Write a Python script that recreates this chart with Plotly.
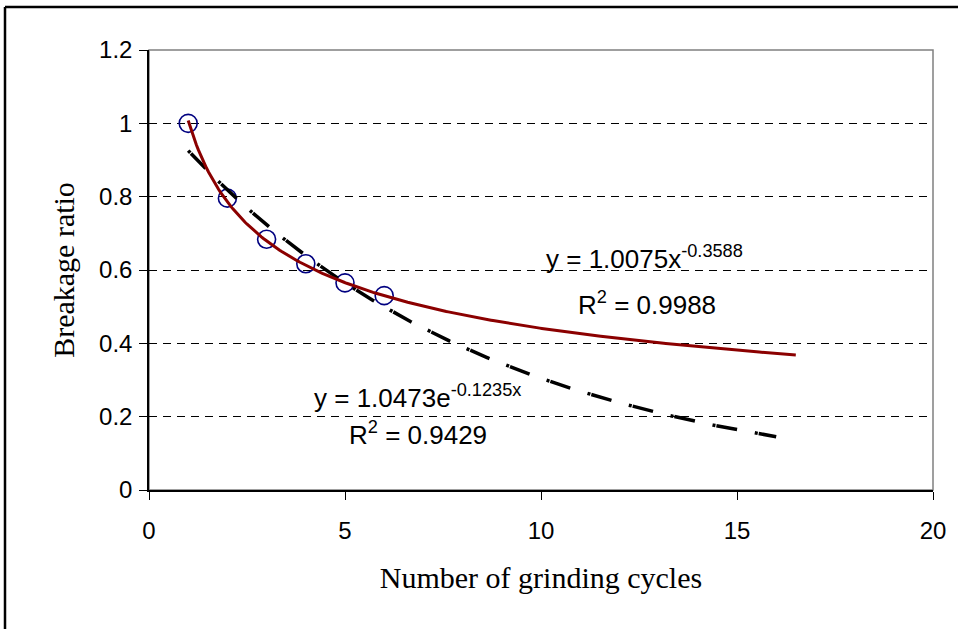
import numpy as np
import plotly.graph_objects as go

# Measured breakage ratio after each grinding cycle
cycles = [1, 2, 3, 4, 5, 6]
breakage_ratio = [1.0, 0.796, 0.684, 0.617, 0.565, 0.530]

# Fitted trendlines (coefficients as reported in the equation labels)
power_a, power_b = 1.0075, -0.3588
power_r2 = 0.9988
exp_a, exp_b = 1.0473, -0.1235
exp_r2 = 0.9429

# Forecast extent of each trendline
power_x_end = 16.5
exp_x_end = 16.0

x_ticks = [0, 5, 10, 15, 20]
y_ticks = [0, 0.2, 0.4, 0.6, 0.8, 1.0, 1.2]
y_tick_text = ["0", "0.2", "0.4", "0.6", "0.8", "1", "1.2"]

xp = np.linspace(cycles[0], power_x_end, 300)
yp = power_a * xp ** power_b
xe = np.linspace(cycles[0], exp_x_end, 300)
ye = exp_a * np.exp(exp_b * xe)

fig = go.Figure()

fig.add_trace(go.Scatter(
    x=cycles, y=breakage_ratio, mode="markers",
    marker=dict(symbol="circle-open", size=18, color="#000080",
                line=dict(width=1.6, color="#000080")),
    showlegend=False, hoverinfo="skip",
))
fig.add_trace(go.Scatter(
    x=xe, y=ye, mode="lines",
    line=dict(color="#000000", width=3.5, dash="3px,1px,21px,18px"),
    showlegend=False, hoverinfo="skip",
))
fig.add_trace(go.Scatter(
    x=xp, y=yp, mode="lines",
    line=dict(color="#8B0000", width=3),
    showlegend=False, hoverinfo="skip",
))

eq_font = dict(family="Liberation Sans, Arial, sans-serif", size=26, color="#000000")
annotations = [
    dict(x=12.63, y=0.633, text=f"y = {power_a:.4f}x<sup>{power_b:.4f}</sup>"),
    dict(x=12.7, y=0.51, text=f"R<sup>2</sup> = {power_r2:.4f}"),
    dict(x=6.86, y=0.254, text=f"y = {exp_a:.4f}e<sup>{exp_b:.4f}x</sup>"),
    dict(x=6.86, y=0.153, text=f"R<sup>2</sup> = {exp_r2:.4f}"),
]
for a in annotations:
    a.update(xref="x", yref="y", showarrow=False, font=eq_font,
             xanchor="center", yanchor="middle")

# chart-area border edges in paper units of the plot area
border_left = (5 - 149) / 784
border_right = (958 - 149) / 784
border_top = (490 - 7) / 440
border_bottom = (490 - 629) / 440

fig.update_layout(
    width=958, height=629,
    margin=dict(l=149, r=25, t=50, b=139),
    paper_bgcolor="#ffffff", plot_bgcolor="#ffffff",
    annotations=annotations,
    shapes=[
        # plot-area frame
        dict(type="rect", xref="paper", yref="paper", x0=0, y0=0, x1=1, y1=1,
             line=dict(color="#808080", width=1.5), layer="below"),
        # chart-area border (top and left edges)
        dict(type="line", xref="paper", yref="paper",
             x0=border_left, y0=border_top, x1=border_right, y1=border_top,
             line=dict(color="#000000", width=2.5)),
        dict(type="line", xref="paper", yref="paper",
             x0=border_left, y0=border_top, x1=border_left, y1=border_bottom,
             line=dict(color="#000000", width=2.5)),
    ],
)

fig.update_xaxes(
    range=[0, 20], tickvals=x_ticks, ticktext=[str(v) for v in x_ticks],
    showgrid=False, zeroline=False,
    showline=True, linecolor="#000000", linewidth=1.5,
    ticks="outside", ticklen=8, tickcolor="#000000", tickwidth=1,
    ticklabelstandoff=10,
    tickfont=dict(family="Liberation Sans, Arial, sans-serif", size=24, color="#000000"),
    title=dict(text="Number of grinding cycles", standoff=24,
               font=dict(family="Liberation Serif, Times New Roman, serif", size=30, color="#000000")),
)
fig.update_yaxes(
    range=[0, 1.2], tickvals=y_ticks, ticktext=y_tick_text,
    showgrid=True, gridcolor="#000000", gridwidth=1, griddash="8px,6px",
    zeroline=False,
    showline=True, linecolor="#000000", linewidth=1.5,
    ticks="outside", ticklen=8, tickcolor="#000000", tickwidth=1,
    ticklabelstandoff=2,
    tickfont=dict(family="Liberation Sans, Arial, sans-serif", size=24, color="#000000"),
    title=dict(text="Breakage ratio", standoff=16,
               font=dict(family="Liberation Serif, Times New Roman, serif", size=30, color="#000000")),
)

fig.write_html("out.html")
